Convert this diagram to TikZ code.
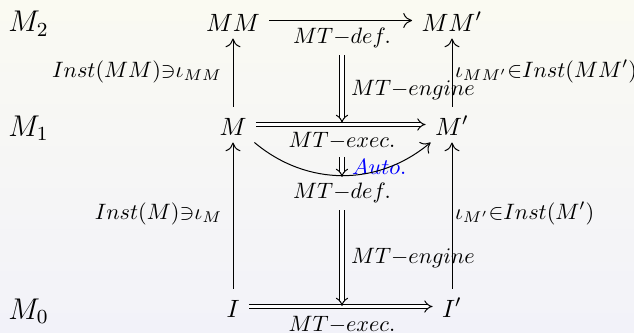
\documentclass[tikz,border=0pt]{standalone}
\usepackage{amsmath,amssymb}
\usepackage{graphicx}
\usepackage{xcolor}
\usetikzlibrary{arrows.meta}
\definecolor{bgtop}{RGB}{250,250,242}
\definecolor{bgbot}{RGB}{242,242,249}
\newcommand{\tlab}[1]{\scalebox{0.89}{$#1$}}
\begin{document}
\begin{tikzpicture}[
    x=0.4pt, y=0.4pt,
    obj/.style={inner xsep=3.6pt, inner ysep=2.8pt, text height=8.4pt, text depth=0pt, anchor=base},
    lvl/.style={anchor=base west, inner sep=0pt, font=\large},
    lbl/.style={inner sep=3pt},
    arrow/.style={-{To[length=3.5pt,width=6pt]}},
    darrow/.style={double, double distance=1.3pt, -{Implies[length=3.4pt,width=7pt]}}
]
\useasboundingbox (0,0) rectangle (634,-333);
\fill[top color=bgtop, bottom color=bgbot] (0,0) rectangle (634,-333);

% Levels
\node[lvl] (m2) at (8,-32) {$M_2$};
\node[lvl] (m1) at (8,-136) {$M_1$};
\node[lvl] (m0) at (8,-319) {$M_0$};

% Objects
\node[obj] (MM) at (233,-31) {$MM$};
\node[obj] (MMp) at (452,-31) {$MM'$};
\node[obj] (M) at (233,-135) {$M$};
\node[obj] (Mp) at (452,-135) {$M'$};
\node[obj] (I) at (233,-317) {$I$};
\node[obj] (Ip) at (452,-317) {$I'$};

% Labels
\node[lbl, anchor=base] (defTop) at (342,-43) {\tlab{MT{-}def.}};
\node[lbl, anchor=base] (exec1) at (342,-147) {\tlab{MT{-}exec.}};
\node[lbl, anchor=base] (defMid) at (342,-198) {\tlab{MT{-}def.}};
\node[lbl, anchor=base] (exec0) at (342,-331) {\tlab{MT{-}exec.}};
\node[lbl, anchor=base west] (engTop) at (343,-95) {\tlab{MT{-}engine}};
\node[lbl, anchor=base west] (engBot) at (343,-263) {\tlab{MT{-}engine}};
\node[lbl, anchor=base west, text=blue] (auto) at (344,-174) {\tlab{Auto.}};
\node[lbl, anchor=base east] (instMM) at (230,-77) {\tlab{Inst(MM){\ni}\iota_{MM}}};
\node[lbl, anchor=base west] (iotaMMp) at (447,-77) {\tlab{\iota_{MM'}{\in}Inst(MM')}};
\node[lbl, anchor=base east] (instM) at (230,-219) {\tlab{Inst(M){\ni}\iota_M}};
\node[lbl, anchor=base west] (iotaMp) at (447,-219) {\tlab{\iota_{M'}{\in}Inst(M')}};

% Ends of the 2-cells
\coordinate (cTop) at (342,-123);
\coordinate (cAuto) at (342,-177);
\coordinate (cBot) at (342,-306);

% Arrows
\draw[arrow] (MM) -- (MMp);
\draw[darrow] (M) -- (Mp);
\draw[darrow] (I) -- (Ip);
\draw[arrow] (M) -- (MM);
\draw[arrow] (Mp) -- (MMp);
\draw[arrow] (I) -- (M);
\draw[arrow] (Ip) -- (Mp);
\draw[arrow] (M) to[out=-40, in=-140] (Mp);
\draw[darrow] (defTop) -- (cTop);
\draw[darrow] (exec1) -- (cAuto);
\draw[darrow] (defMid) -- (cBot);

\end{tikzpicture}
\end{document}
